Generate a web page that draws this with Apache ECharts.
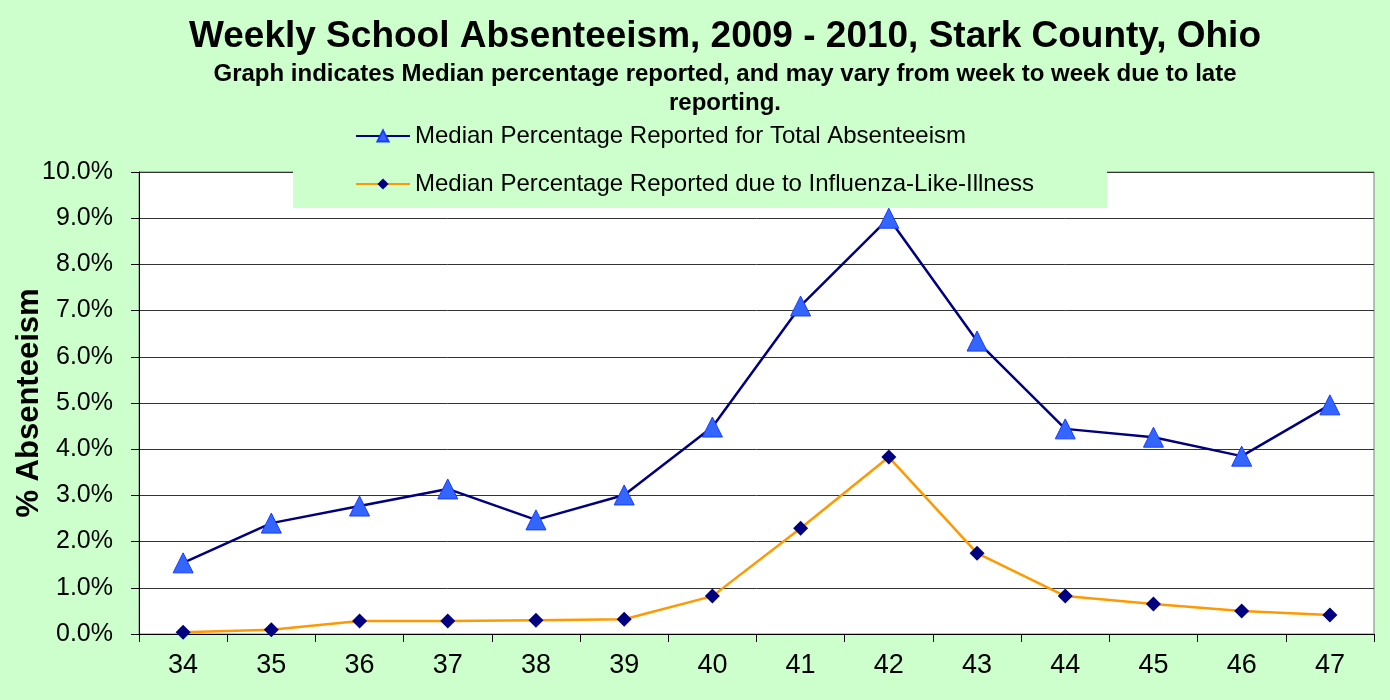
<!DOCTYPE html>
<html>
<head>
<meta charset="utf-8">
<script src="https://cdn.jsdelivr.net/npm/echarts@6/dist/echarts.min.js"></script>
<style>
	html, body { margin: 0; padding: 0; background: #CCFFCC; }
	#main { width: 1390px; height: 700px; }
</style>
</head>
<body>
<div id="main"></div>
<script>
	// weeks of the school year
	var weeks = ['34', '35', '36', '37', '38', '39', '40', '41', '42', '43', '44', '45', '46', '47'];
	// median % reported, total absenteeism
	var totalAbs = [1.54, 2.40, 2.77, 3.14, 2.47, 3.01, 4.48, 7.10, 9.00, 6.34, 4.44, 4.26, 3.85, 4.96];
	// median % reported due to ILI
	var iliAbs = [0.04, 0.09, 0.28, 0.28, 0.30, 0.32, 0.82, 2.29, 3.83, 1.75, 0.82, 0.65, 0.50, 0.41];

	var nameTotal = 'Median Percentage Reported for Total Absenteeism';
	var nameIli = 'Median Percentage Reported due to Influenza-Like-Illness';
	var font = '"Liberation Sans", Arimo, Arial, sans-serif';

	var mychart = echarts.init(document.getElementById('main'));
	var option = {
		backgroundColor: '#CCFFCC',
		animation: false,
		title: {
			text: 'Weekly School Absenteeism, 2009 - 2010, Stark County, Ohio',
			subtext: 'Graph indicates Median percentage reported, and may vary from week to week due to late\nreporting.',
			left: 720,
			textAlign: 'center',
			top: 13,
			itemGap: 5,
			textStyle: {
				fontFamily: font,
				fontWeight: 'bold',
				fontSize: 37,
				color: '#000'
			},
			subtextStyle: {
				fontFamily: font,
				fontWeight: 'bold',
				fontSize: 24,
				lineHeight: 29,
				color: '#000'
			}
		},
		legend: {
			orient: 'vertical',
			left: 293,
			top: 104,
			padding: [20, 73, 12, 62],
			backgroundColor: '#CCFFCC',
			itemWidth: 54,
			itemHeight: 14,
			itemGap: 24,
			textStyle: {
				fontFamily: font,
				fontSize: 24,
				color: '#000'
			},
			data: [nameTotal, nameIli]
		},
		grid: {
			left: 139,
			right: 16,
			top: 172,
			bottom: 66,
			outerBoundsMode: 'none',
			containLabel: false,
			show: true,
			backgroundColor: '#fff',
			borderColor: '#808080',
			borderWidth: 1
		},
		xAxis: {
			type: 'category',
			data: weeks,
			boundaryGap: true,
			axisLine: { lineStyle: { color: '#000', width: 1 } },
			axisTick: { show: true, length: 8, lineStyle: { color: '#000' } },
			axisLabel: {
				fontFamily: font,
				fontSize: 27,
				color: '#000',
				margin: 18
			}
		},
		yAxis: {
			type: 'value',
			min: 0,
			max: 10,
			interval: 1,
			name: '% Absenteeism',
			nameLocation: 'middle',
			nameGap: 94,
			nameRotate: 90,
			nameMoveOverlap: false,
			nameTextStyle: {
				fontFamily: font,
				fontWeight: 'bold',
				fontSize: 31,
				color: '#000'
			},
			axisLine: { show: true, lineStyle: { color: '#000', width: 1 } },
			axisTick: { show: true, length: 8, lineStyle: { color: '#000' } },
			axisLabel: {
				fontFamily: font,
				fontSize: 25,
				color: '#000',
				margin: 26,
				formatter: function(v) { return v.toFixed(1) + '%'; }
			},
			splitLine: { show: true, lineStyle: { color: '#333', width: 1 } }
		},
		series: [{
			name: nameTotal,
			type: 'line',
			data: totalAbs,
			symbol: 'triangle',
			symbolSize: 20,
			lineStyle: { color: '#000080', width: 2.5 },
			itemStyle: { color: '#3366FF', borderColor: '#1a3cff', borderWidth: 1 },
			z: 3
		}, {
			name: nameIli,
			type: 'line',
			data: iliAbs,
			symbol: 'diamond',
			symbolSize: 15,
			lineStyle: { color: '#FF9900', width: 2.5 },
			itemStyle: { color: '#000080' },
			z: 2
		}]
	};
	mychart.setOption(option);
</script>
</body>
</html>
